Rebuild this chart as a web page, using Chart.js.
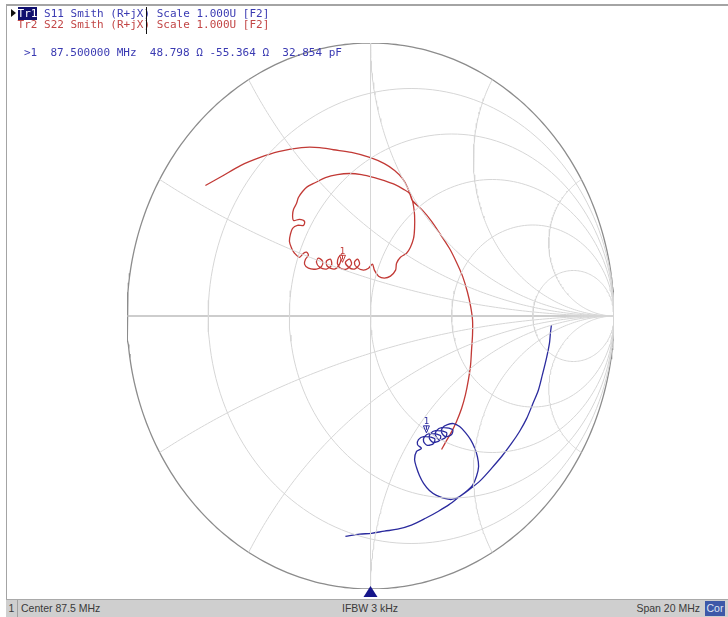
<!DOCTYPE html>
<html>
<head>
<meta charset="utf-8">
<script src="https://cdn.jsdelivr.net/npm/chart.js@4.4.1/dist/chart.umd.min.js"></script>
<style>
    html, body { margin: 0; padding: 0; background: #fff; }
    #wrap { position: relative; width: 728px; height: 617px; overflow: hidden; background: #fff; }
    #smith { position: absolute; left: 0; top: 0; }
    .mono { position: absolute; font-family: "DejaVu Sans Mono", monospace; font-size: 11px; line-height: 11px; white-space: pre; }
    .blue { color: #3a3ab2; }
    .red { color: #c24646; }
    .arrow { display: inline-block; width: 6.6px; height: 9px; position: relative; }
    .arrow:before { content: ""; position: absolute; left: 0; top: 1px; border-left: 5px solid #111; border-top: 4px solid transparent; border-bottom: 4px solid transparent; }
    .tr1 { background: #10106e; color: #fff; }
    #frameTop { position: absolute; left: 7px; right: 0; top: 4px; height: 0; border-top: 2px solid #a4a4a4; }
    #frameLeft { position: absolute; left: 6px; top: 4px; width: 0; height: 596px; border-left: 1.5px solid #a4a4a4; }
    #cursor { position: absolute; left: 146px; top: 7px; width: 1px; height: 27px; background: #111; }
    #status { position: absolute; left: 6px; right: 0; top: 599px; height: 18px; background: #cfcfcf; border-top: 1px solid #a9a9a9;
              font-family: "Liberation Sans", Arial, sans-serif; font-size: 10.5px; line-height: 17px; color: #3a3a3a; }
    #status span { position: absolute; top: 0; white-space: pre; }
    #cell1 { left: 0; width: 11px; text-align: center; border-right: 1px solid #a0a0a0; }
    #cor { right: 3px; top: 1px !important; width: 20px; height: 15px; line-height: 15px; background: #3d58a8; color: #dfe4f4; text-align: center; }
</style>
</head>
<body>
<div id="wrap">
    <canvas id="smith" width="728" height="617"></canvas>
    <div id="frameTop"></div>
    <div id="frameLeft"></div>
    <div class="mono" style="left:11px; top:8px;"><span class="arrow"></span><span class="tr1">Tr1</span><span class="blue"> S11 Smith (R+jX) Scale 1.000U [F2]</span></div>
    <div class="mono red" style="left:11px; top:19px;"> Tr2 S22 Smith (R+jX) Scale 1.000U [F2]</div>
    <div id="cursor"></div>
    <div class="mono blue" style="left:24px; top:47px;">&gt;1  87.500000 MHz  48.798 Ω -55.364 Ω  32.854 pF</div>
    <div id="status">
        <span id="cell1">1</span>
        <span style="left:15px;">Center 87.5 MHz</span>
        <span style="left:336px;">IFBW 3 kHz</span>
        <span style="right:28px;">Span 20 MHz</span>
        <span id="cor">Cor</span>
    </div>
</div>
<script>
// Smith grid: constant resistance circles and constant reactance arcs (normalised)
const resistanceCircles = [0.2, 0.5, 1, 2, 5];
const reactanceArcs = [0.268, 0.577, 1, 1.732, 3.732];

const s22Re = [
    -0.678, -0.612, -0.534, -0.456, -0.378, -0.283, -0.209, -0.152, -0.078, 0.000, 0.057, 0.099, 0.131, 0.152, 0.172,
    0.177, 0.181, 0.181, 0.177, 0.164, 0.148, 0.123, 0.107, 0.103, 0.082, 0.057, 0.033, 0.016, 0.008, -0.008, -0.029,
    -0.057, -0.066, -0.053, -0.045, -0.066, -0.090, -0.103, -0.086, -0.078, -0.099, -0.123, -0.136, -0.131, -0.119,
    -0.127, -0.148, -0.177, -0.181, -0.164, -0.160, -0.181, -0.209, -0.222, -0.214, -0.197, -0.201, -0.222, -0.255,
    -0.271, -0.267, -0.255, -0.263, -0.275, -0.292, -0.312, -0.324, -0.333, -0.329, -0.320, -0.300, -0.275, -0.271,
    -0.292, -0.316, -0.320, -0.316, -0.304, -0.296, -0.279, -0.259, -0.226, -0.185, -0.136, -0.086, -0.037, 0.016,
    0.057, 0.099, 0.136, 0.160, 0.172,
    0.214, 0.251, 0.287, 0.324, 0.353, 0.378, 0.398, 0.411, 0.419, 0.419, 0.415, 0.411, 0.402, 0.390, 0.374, 0.353,
    0.329, 0.308, 0.292
];
const s22Im = [
    0.478, 0.511, 0.551, 0.580, 0.602, 0.617, 0.617, 0.609, 0.599, 0.580, 0.558, 0.533, 0.504, 0.471, 0.423,
    0.401, 0.369, 0.321, 0.285, 0.252, 0.230, 0.215, 0.193, 0.168, 0.146, 0.139, 0.146, 0.168, 0.190, 0.175, 0.168,
    0.179, 0.197, 0.208, 0.190, 0.172, 0.179, 0.197, 0.208, 0.190, 0.172, 0.175, 0.193, 0.215, 0.223,
    0.190, 0.172, 0.182, 0.201, 0.208, 0.186, 0.172, 0.179, 0.197, 0.212, 0.201, 0.182, 0.172, 0.175,
    0.190, 0.208, 0.223, 0.234, 0.230, 0.215, 0.230, 0.248, 0.274, 0.299, 0.321, 0.332, 0.332, 0.347,
    0.354, 0.350, 0.369, 0.391, 0.412, 0.434, 0.456, 0.474, 0.489, 0.507, 0.518, 0.522, 0.518, 0.507,
    0.496, 0.482, 0.464, 0.449, 0.423,
    0.387, 0.347, 0.299, 0.248, 0.197, 0.146, 0.088, 0.036, -0.015, -0.069, -0.124, -0.179, -0.234, -0.288, -0.339, -0.387,
    -0.431, -0.463, -0.489
];

// Tr1 S11, reflection coefficient (real / imaginary)
const s11Re = [
    -0.103, -0.045, 0.004, 0.057, 0.111, 0.168, 0.226, 0.279, 0.324, 0.366,
    0.394, 0.419, 0.435, 0.444, 0.439, 0.427, 0.411, 0.390, 0.366, 0.341,
    0.316, 0.296, 0.292, 0.308, 0.333, 0.337,
    0.292, 0.271, 0.267, 0.283, 0.308, 0.312,
    0.267, 0.246, 0.242, 0.259, 0.283, 0.287,
    0.242, 0.222, 0.218, 0.234, 0.259, 0.263,
    0.218, 0.197, 0.193, 0.209,
    0.189, 0.181, 0.189, 0.201, 0.218, 0.242, 0.271, 0.304, 0.333, 0.366,
    0.407, 0.452, 0.497, 0.542, 0.579, 0.612, 0.641, 0.665, 0.690, 0.706, 0.723, 0.735, 0.739, 0.743
];
const s11Im = [
    -0.807, -0.799, -0.796, -0.788, -0.781, -0.766, -0.741, -0.715, -0.690, -0.661,
    -0.642, -0.620, -0.588, -0.551, -0.515, -0.482, -0.453, -0.427, -0.405, -0.394,
    -0.398, -0.409, -0.427, -0.442, -0.434, -0.416,
    -0.409, -0.420, -0.438, -0.453, -0.445, -0.427,
    -0.420, -0.431, -0.449, -0.463, -0.456, -0.438,
    -0.431, -0.442, -0.460, -0.474, -0.467, -0.449,
    -0.442, -0.453, -0.471, -0.485,
    -0.496, -0.526, -0.555, -0.584, -0.613, -0.639, -0.657, -0.668, -0.672, -0.661,
    -0.635, -0.602, -0.558, -0.511, -0.467, -0.423, -0.376, -0.325, -0.270, -0.215, -0.153, -0.099, -0.062, -0.033
];

// Marker 1 at 87.5 MHz
const z0 = 50;
const s11MarkerZ = [48.798, -55.364];   // R, X in ohms (marker readout)
const s22MarkerG = [-0.115, 0.193];     // reflection coefficient

const blueTrace = '#2b2b9e';
const redTrace = '#c23a36';
const gridColor = '#d6d6d6';

function arc(cx, cy, rad, a0, a1, n) {
    const pts = [];
    for (let i = 0; i <= n; i++) {
        const a = a0 + (a1 - a0) * i / n;
        pts.push({ x: cx + rad * Math.cos(a), y: cy + rad * Math.sin(a) });
    }
    return pts;
}

function zToGamma(z) {
    // (Z - Z0) / (Z + Z0)
    const nr = z[0] - z0, ni = z[1];
    const dr = z[0] + z0, di = z[1];
    const d = dr * dr + di * di;
    return [(nr * dr + ni * di) / d, (ni * dr - nr * di) / d];
}

function buildGrid() {
    const sets = [];
    const line = (pts, color, width) => sets.push({
        data: pts, showLine: true, borderColor: color, borderWidth: width,
        pointRadius: 0, tension: 0, fill: false
    });

    resistanceCircles.forEach(r => {
        line(arc(r / (1 + r), 0, 1 / (1 + r), 0, 2 * Math.PI, 180), gridColor, 1);
    });

    reactanceArcs.forEach(x => {
        const k = 1 / x;
        const rimRe = (x * x - 1) / (x * x + 1);
        const rimIm = 2 * x / (x * x + 1);
        let a0 = Math.atan2(rimIm - k, rimRe - 1);
        if (a0 < 0) a0 += 2 * Math.PI;
        const upper = arc(1, k, k, a0, 1.5 * Math.PI, 140);
        line(upper, gridColor, 1);
        line(upper.map(p => ({ x: p.x, y: -p.y })), gridColor, 1);
    });

    line([{ x: 0, y: -1 }, { x: 0, y: 1 }], gridColor, 1);
    line([{ x: -1, y: 0 }, { x: 1, y: 0 }], '#bdbdbd', 1.6);
    line(arc(0, 0, 1, 0, 2 * Math.PI, 360), '#8c8c8c', 1.3);
    return sets;
}

function toPoints(re, im) {
    return re.map((v, i) => ({ x: v, y: im[i] }));
}

const s11Marker = zToGamma(s11MarkerZ);
const markers = [
    { g: s11Marker, color: blueTrace },
    { g: s22MarkerG, color: redTrace }
];

// Marker glyphs and the stimulus pointer under the chart
const markerPlugin = {
    id: 'markers',
    afterDatasetsDraw(chart) {
        const { ctx, scales: { x, y } } = chart;
        ctx.save();
        markers.forEach(m => {
            const px = x.getPixelForValue(m.g[0]);
            const py = y.getPixelForValue(m.g[1]);
            ctx.strokeStyle = m.color;
            ctx.fillStyle = '#fff';
            ctx.lineWidth = 1;
            ctx.beginPath();
            ctx.moveTo(px, py - 1);
            ctx.lineTo(px - 3, py - 8);
            ctx.lineTo(px + 3, py - 8);
            ctx.closePath();
            ctx.fill();
            ctx.stroke();
            ctx.beginPath();
            ctx.moveTo(px, py - 8);
            ctx.lineTo(px, py - 4);
            ctx.stroke();
            ctx.fillStyle = m.color;
            ctx.font = '9px "DejaVu Sans Mono"';
            ctx.textAlign = 'center';
            ctx.textBaseline = 'alphabetic';
            ctx.fillText('1', px, py - 9.5);
        });

        const cx = x.getPixelForValue(0);
        const bottom = y.getPixelForValue(-1);
        ctx.fillStyle = '#16168a';
        ctx.beginPath();
        ctx.moveTo(cx, bottom - 3);
        ctx.lineTo(cx - 7, bottom + 8);
        ctx.lineTo(cx + 7, bottom + 8);
        ctx.closePath();
        ctx.fill();
        ctx.restore();
    }
};

const datasets = buildGrid();
datasets.push({
    data: toPoints(s11Re, s11Im), showLine: true, borderColor: blueTrace, borderWidth: 1.3,
    pointRadius: 0, tension: 0.3, fill: false
});
datasets.push({
    data: toPoints(s22Re, s22Im), showLine: true, borderColor: redTrace, borderWidth: 1.3,
    pointRadius: 0, tension: 0.3, fill: false
});

new Chart(document.getElementById('smith').getContext('2d'), {
    type: 'scatter',
    data: { datasets },
    options: {
        responsive: false,
        animation: false,
        events: [],
        layout: { padding: { left: 127, right: 114, top: 43, bottom: 28 } },
        plugins: {
            legend: { display: false },
            tooltip: { enabled: false }
        },
        scales: {
            x: { type: 'linear', min: -1, max: 1, display: false },
            y: { type: 'linear', min: -1, max: 1, display: false }
        }
    },
    plugins: [markerPlugin]
});
</script>
</body>
</html>
